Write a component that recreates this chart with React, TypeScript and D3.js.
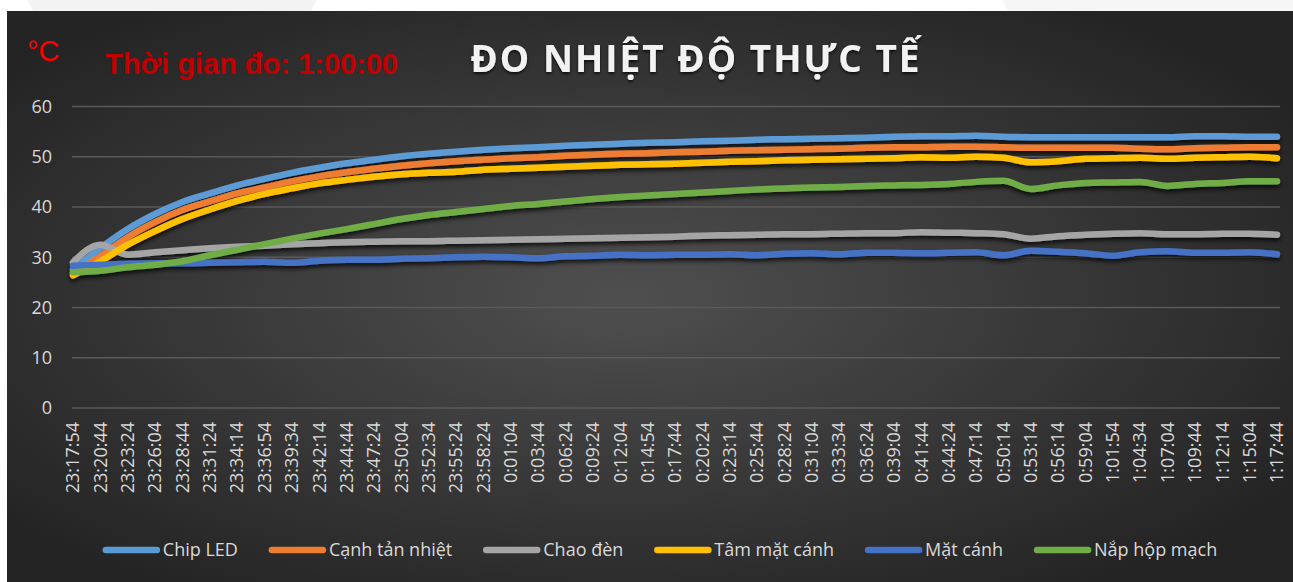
import React, { useEffect, useRef } from "react";
import * as d3 from "d3";

const timeLabels = [
  "23:17:54", "23:20:44", "23:23:24", "23:26:04", "23:28:44", "23:31:24", "23:34:14",
  "23:36:54", "23:39:34", "23:42:14", "23:44:44", "23:47:24", "23:50:04", "23:52:34",
  "23:55:24", "23:58:24", "0:01:04", "0:03:44", "0:06:24", "0:09:24", "0:12:04",
  "0:14:54", "0:17:44", "0:20:24", "0:23:14", "0:25:44", "0:28:24", "0:31:04",
  "0:33:34", "0:36:24", "0:39:04", "0:41:44", "0:44:24", "0:47:14", "0:50:14",
  "0:53:14", "0:56:14", "0:59:04", "1:01:54", "1:04:34", "1:07:04", "1:09:44",
  "1:12:14", "1:15:04", "1:17:44",
];

const chipLed = [
  27.5, 31.8, 35.6, 38.6, 41.0, 42.7, 44.3, 45.6, 46.8, 47.8, 48.7, 49.4, 50.1, 50.6, 51.0,
  51.4, 51.7, 51.9, 52.2, 52.4, 52.6, 52.8, 52.9, 53.1, 53.2, 53.4, 53.5, 53.6, 53.7, 53.8,
  54.0, 54.1, 54.1, 54.2, 54.0, 53.9, 53.9, 53.9, 53.9, 53.9, 53.9, 54.1, 54.1, 54.0, 54.0,
];
const canhTanNhiet = [
  26.8, 30.2, 34.0, 37.0, 39.4, 41.1, 42.7, 43.9, 45.1, 46.1, 46.9, 47.6, 48.2, 48.7, 49.1,
  49.4, 49.7, 49.9, 50.2, 50.4, 50.6, 50.7, 50.9, 51.0, 51.2, 51.3, 51.4, 51.5, 51.6, 51.8,
  51.9, 51.9, 52.0, 52.0, 51.9, 51.8, 51.8, 51.8, 51.8, 51.6, 51.5, 51.7, 51.8, 51.9, 51.9,
];
const chaoDen = [
  29.0, 32.5, 30.5, 31.0, 31.4, 31.8, 32.1, 32.3, 32.6, 32.8, 33.0, 33.1, 33.2, 33.2, 33.3,
  33.4, 33.5, 33.6, 33.7, 33.8, 33.9, 34.0, 34.1, 34.3, 34.4, 34.5, 34.6, 34.6, 34.7, 34.8,
  34.8, 35.0, 34.9, 34.8, 34.6, 33.7, 34.2, 34.5, 34.7, 34.8, 34.6, 34.6, 34.7, 34.7, 34.5,
];
const tamMatCanh = [
  26.4, 29.2, 32.5, 35.2, 37.6, 39.5, 41.2, 42.6, 43.7, 44.7, 45.4, 46.0, 46.5, 46.8, 47.0,
  47.4, 47.6, 47.8, 48.0, 48.2, 48.4, 48.5, 48.6, 48.8, 49.0, 49.1, 49.3, 49.4, 49.5, 49.6,
  49.7, 49.9, 49.8, 50.0, 49.8, 48.9, 49.1, 49.6, 49.7, 49.8, 49.6, 49.8, 49.9, 50.0, 49.7,
];
const matCanh = [
  28.3, 28.5, 28.7, 28.8, 28.8, 28.9, 29.0, 29.1, 28.9, 29.3, 29.5, 29.5, 29.7, 29.8, 30.0,
  30.1, 30.0, 29.8, 30.2, 30.3, 30.5, 30.4, 30.5, 30.5, 30.6, 30.4, 30.7, 30.8, 30.6, 30.9,
  30.9, 30.8, 30.9, 31.0, 30.4, 31.3, 31.1, 30.8, 30.3, 31.0, 31.2, 30.9, 30.9, 31.0, 30.6,
];
const napHopMach = [
  27.0, 27.3, 28.0, 28.5, 29.2, 30.4, 31.5, 32.6, 33.7, 34.7, 35.6, 36.6, 37.6, 38.4, 39.0,
  39.6, 40.2, 40.6, 41.1, 41.6, 42.0, 42.3, 42.6, 42.9, 43.2, 43.5, 43.7, 43.9, 44.0, 44.2,
  44.3, 44.4, 44.6, 45.0, 45.2, 43.6, 44.3, 44.8, 44.9, 45.0, 44.2, 44.6, 44.8, 45.1, 45.1,
];

const seriesNames = ["Chip LED", "Cạnh tản nhiệt", "Chao đèn", "Tâm mặt cánh", "Mặt cánh", "Nắp hộp mạch"];
const seriesValues = [chipLed, canhTanNhiet, chaoDen, tamMatCanh, matCanh, napHopMach];
const seriesColors = ["#5B9BD5", "#ED7D31", "#A5A5A5", "#FFC000", "#4472C4", "#70AD47"];
const yTicks = [0, 10, 20, 30, 40, 50, 60];

const W = 1293;
const H = 582;
const labelFont = "'Open Sans', 'Noto Sans', sans-serif";

export default function App() {
  const svgRef = useRef<SVGSVGElement | null>(null);

  useEffect(() => {
    if (!svgRef.current) return;
    const svg = d3.select(svgRef.current);
    svg.selectAll("*").remove();

    const defs = svg.append("defs");
    const bg = defs
      .append("radialGradient")
      .attr("id", "bg-grad")
      .attr("cx", "48%")
      .attr("cy", "50%")
      .attr("r", "62%");
    bg.append("stop").attr("offset", "0%").attr("stop-color", "#4f4f4f");
    bg.append("stop").attr("offset", "100%").attr("stop-color", "#242424");

    const shadow = defs
      .append("filter")
      .attr("id", "line-shadow")
      .attr("x", "-5%")
      .attr("y", "-20%")
      .attr("width", "110%")
      .attr("height", "140%");
    shadow
      .append("feDropShadow")
      .attr("dx", 0)
      .attr("dy", 3)
      .attr("stdDeviation", 2)
      .attr("flood-color", "#000")
      .attr("flood-opacity", 0.75);

    const titleShadow = defs.append("filter").attr("id", "title-shadow");
    titleShadow
      .append("feDropShadow")
      .attr("dx", 0)
      .attr("dy", 2)
      .attr("stdDeviation", 1.5)
      .attr("flood-color", "#000")
      .attr("flood-opacity", 0.7);

    // page strip above the chart
    svg.append("rect").attr("width", W).attr("height", H).attr("fill", "#ffffff");
    svg.append("circle").attr("cx", 172).attr("cy", -64).attr("r", 158).attr("fill", "#f3f3f3");
    svg.append("circle").attr("cx", 1160).attr("cy", -64).attr("r", 170).attr("fill", "#f6f6f6");

    svg
      .append("rect")
      .attr("x", 7)
      .attr("y", 11)
      .attr("width", W - 7)
      .attr("height", H - 11)
      .attr("fill", "url(#bg-grad)");

    const x = d3
      .scalePoint<number>()
      .domain(d3.range(timeLabels.length))
      .range([73, 1277]);
    const y = d3.scaleLinear().domain([0, 60]).range([408, 106.5]);

    // gridlines
    svg
      .append("g")
      .selectAll("line")
      .data(yTicks)
      .join("line")
      .attr("x1", 72)
      .attr("x2", 1280)
      .attr("y1", (d) => y(d))
      .attr("y2", (d) => y(d))
      .attr("stroke", "#5a5a5a")
      .attr("stroke-width", 1.3);

    svg
      .append("g")
      .selectAll("text")
      .data(yTicks)
      .join("text")
      .attr("x", 52)
      .attr("y", (d) => y(d))
      .attr("dy", "0.35em")
      .attr("text-anchor", "end")
      .attr("fill", "#d9d9d9")
      .attr("font-family", labelFont)
      .attr("font-size", 18)
      .text((d) => d);

    svg
      .append("g")
      .selectAll("text")
      .data(timeLabels)
      .join("text")
      .attr("transform", (_, i) => `translate(${x(i)},422) rotate(-90)`)
      .attr("text-anchor", "end")
      .attr("dy", "0.35em")
      .attr("fill", "#d9d9d9")
      .attr("font-family", labelFont)
      .attr("font-size", 18)
      .text((d) => d);

    const line = d3
      .line<number>()
      .x((_, i) => x(i)!)
      .y((d) => y(d))
      .curve(d3.curveMonotoneX);

    const lines = svg.append("g").attr("filter", "url(#line-shadow)");
    seriesValues.forEach((vals, k) => {
      lines
        .append("path")
        .datum(vals)
        .attr("fill", "none")
        .attr("stroke", seriesColors[k])
        .attr("stroke-width", 6.5)
        .attr("stroke-linejoin", "round")
        .attr("stroke-linecap", "round")
        .attr("d", line);
    });

    // titles
    svg
      .append("text")
      .attr("x", 696)
      .attr("y", 72)
      .attr("text-anchor", "middle")
      .attr("fill", "#f2f2f2")
      .attr("font-family", labelFont)
      .attr("font-weight", 700)
      .attr("font-size", 37)
      .attr("letter-spacing", 2)
      .attr("filter", "url(#title-shadow)")
      .text("ĐO NHIỆT ĐỘ THỰC TẾ");

    svg
      .append("text")
      .attr("x", 27)
      .attr("y", 61)
      .attr("fill", "#ff0000")
      .attr("font-family", "'Liberation Sans', Arial, sans-serif")
      .attr("font-size", 29)
      .text("°C");

    svg
      .append("text")
      .attr("x", 105)
      .attr("y", 74)
      .attr("fill", "#c00000")
      .attr("font-family", "'Liberation Sans', Arial, sans-serif")
      .attr("font-weight", 700)
      .attr("font-size", 29)
      .text("Thời gian đo: 1:00:00");

    // legend
    const legend = svg.append("g");
    const swatch = 57;
    const items = seriesNames.map((name, k) => {
      const g = legend.append("g");
      g.append("line")
        .attr("x1", 3)
        .attr("x2", swatch - 3)
        .attr("y1", 0)
        .attr("y2", 0)
        .attr("stroke", seriesColors[k])
        .attr("stroke-width", 6.5)
        .attr("stroke-linecap", "round");
      const t = g
        .append("text")
        .attr("x", swatch + 3)
        .attr("dy", "0.35em")
        .attr("fill", "#d9d9d9")
        .attr("font-family", labelFont)
        .attr("font-size", 18)
        .text(name);
      const w = (t.node() as SVGTextElement).getComputedTextLength();
      return { g, w: swatch + 3 + w };
    });
    const gap = 31;
    const total = d3.sum(items, (d) => d.w) + gap * (items.length - 1);
    let cx = 660 - total / 2;
    items.forEach((it) => {
      it.g.attr("transform", `translate(${cx},550)`);
      cx += it.w + gap;
    });
  }, []);

  return (
    <div style={{ position: "absolute", left: 0, top: 0, width: W, height: H }}>
      <svg ref={svgRef} width={W} height={H} style={{ display: "block" }} />
    </div>
  );
}
